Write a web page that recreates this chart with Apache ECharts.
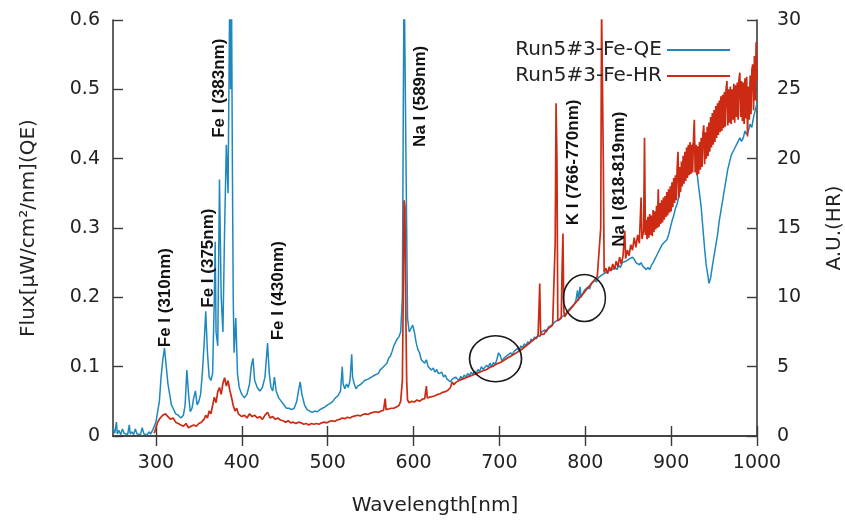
<!DOCTYPE html>
<html><head><meta charset="utf-8">
<script src="https://cdn.jsdelivr.net/npm/echarts@6/dist/echarts.min.js"></script>
<style>html,body{margin:0;padding:0;background:#fff}#c{width:845px;height:522px}</style>
</head><body><div id="c"></div>
<script>
// Run5#3-Fe-QE : [wavelength nm, flux µW/cm²/nm]
const qeSpectrum = [[250,0.012],[252,0.004],[254,0.02],[255,0.003],[257,0.008],[259,0.002],[261,0.01],[263,0.004],[265,0.006],[267,0.002],[269,0.016],[270,0.003],[272,0.006],[274,0.002],[276,0.01],[278,0.003],[280,0.005],[282,0.002],[284,0.012],[286,0.003],[288,0.004],[290,0.002],[292,0.006],[294,0.003],[296,0.008],[298,0.01],[300,0.02],[302,0.035],[304,0.05],[306,0.085],[308,0.11],[310,0.127],[312,0.1],[314,0.075],[316,0.06],[318,0.045],[320,0.04],[323,0.032],[326,0.03],[329,0.026],[332,0.03],[334,0.045],[336,0.095],[338,0.06],[340,0.035],[342,0.04],[344,0.055],[346,0.065],[348,0.045],[350,0.05],[352,0.06],[354,0.09],[356,0.13],[358,0.18],[360,0.12],[362,0.085],[364,0.08],[366,0.09],[368,0.2],[369,0.28],[370,0.15],[372,0.13],[374,0.37],[376,0.2],[378,0.15],[380,0.3],[382,0.42],[384,0.35],[386,0.65],[387,0.5],[388,0.65],[389,0.4],[390,0.2],[391,0.12],[393,0.17],[395,0.09],[397,0.07],[400,0.06],[403,0.055],[406,0.06],[409,0.075],[411,0.1],[413,0.112],[415,0.08],[418,0.07],[421,0.065],[424,0.07],[427,0.085],[430,0.134],[432,0.09],[434,0.07],[436,0.065],[438,0.085],[440,0.065],[443,0.055],[446,0.05],[449,0.045],[452,0.04],[455,0.04],[458,0.038],[461,0.04],[464,0.05],[466,0.065],[468,0.078],[470,0.06],[473,0.045],[476,0.038],[479,0.036],[482,0.034],[485,0.036],[488,0.035],[491,0.038],[494,0.04],[497,0.042],[500,0.045],[503,0.047],[506,0.05],[509,0.055],[512,0.058],[515,0.065],[517,0.1],[518,0.075],[520,0.068],[522,0.075],[524,0.07],[526,0.08],[528,0.118],[529,0.085],[531,0.075],[533,0.068],[535,0.072],[537,0.07],[539,0.075],[541,0.073],[543,0.08],[545,0.078],[547,0.082],[549,0.08],[551,0.085],[553,0.083],[555,0.088],[557,0.086],[559,0.09],[561,0.095],[563,0.093],[565,0.1],[567,0.098],[569,0.105],[571,0.112],[573,0.115],[575,0.122],[577,0.13],[579,0.135],[581,0.14],[583,0.143],[585,0.15],[587,0.2],[588,0.45],[589,0.68],[591,0.68],[592,0.3],[593,0.17],[595,0.15],[597,0.155],[599,0.16],[601,0.15],[603,0.135],[605,0.125],[607,0.12],[609,0.11],[611,0.112],[613,0.105],[615,0.11],[617,0.1],[619,0.102],[621,0.095],[623,0.098],[625,0.092],[627,0.096],[629,0.09],[631,0.088],[633,0.092],[635,0.085],[637,0.088],[639,0.082],[641,0.08],[643,0.078],[645,0.082],[647,0.08],[649,0.085],[651,0.083],[653,0.08],[655,0.086],[657,0.082],[659,0.088],[661,0.085],[663,0.09],[665,0.087],[667,0.092],[669,0.089],[671,0.094],[673,0.09],[675,0.096],[677,0.093],[679,0.1],[681,0.096],[683,0.098],[685,0.102],[687,0.099],[689,0.105],[691,0.1],[693,0.106],[695,0.103],[697,0.11],[699,0.12],[701,0.116],[703,0.108],[705,0.112],[707,0.11],[709,0.116],[711,0.114],[713,0.12],[715,0.117],[717,0.122],[719,0.12],[721,0.126],[723,0.123],[725,0.13],[727,0.127],[729,0.133],[731,0.13],[733,0.136],[735,0.133],[737,0.14],[739,0.137],[741,0.143],[743,0.14],[745,0.146],[747,0.143],[749,0.15],[751,0.148],[753,0.153],[755,0.15],[757,0.157],[759,0.155],[761,0.16],[763,0.158],[765,0.165],[767,0.163],[769,0.168],[771,0.166],[773,0.172],[775,0.17],[777,0.176],[779,0.18],[781,0.178],[783,0.185],[785,0.183],[787,0.19],[789,0.195],[791,0.21],[792,0.195],[794,0.215],[795,0.2],[797,0.205],[799,0.21],[801,0.208],[803,0.215],[805,0.212],[807,0.22],[809,0.218],[811,0.225],[813,0.222],[815,0.228],[817,0.226],[819,0.232],[821,0.23],[823,0.235],[825,0.233],[827,0.238],[829,0.236],[831,0.24],[833,0.238],[835,0.243],[837,0.24],[839,0.246],[841,0.243],[843,0.25],[845,0.248],[847,0.252],[849,0.25],[851,0.255],[853,0.253],[855,0.258],[857,0.255],[859,0.25],[861,0.252],[863,0.247],[865,0.25],[867,0.245],[869,0.243],[871,0.24],[873,0.243],[875,0.24],[877,0.246],[879,0.25],[881,0.255],[883,0.26],[885,0.265],[887,0.27],[889,0.275],[891,0.278],[893,0.28],[895,0.283],[897,0.29],[899,0.3],[901,0.31],[903,0.318],[905,0.328],[907,0.335],[909,0.345],[911,0.36],[913,0.375],[915,0.39],[917,0.4],[919,0.413],[921,0.417],[923,0.41],[925,0.42],[927,0.425],[929,0.4],[931,0.37],[933,0.35],[935,0.33],[937,0.3],[939,0.27],[941,0.245],[943,0.23],[944,0.22],[946,0.228],[948,0.245],[950,0.26],[952,0.275],[954,0.29],[956,0.31],[958,0.325],[960,0.34],[962,0.355],[964,0.37],[966,0.385],[968,0.395],[970,0.405],[972,0.41],[974,0.415],[976,0.42],[978,0.425],[980,0.43],[982,0.425],[984,0.43],[986,0.44],[988,0.435],[990,0.44],[992,0.45],[994,0.445],[996,0.46],[998,0.47],[1000,0.48]];

// Run5#3-Fe-HR : [wavelength nm, A.U.]
const hrSpectrum = [[298,0.2],[300,0.6],[302,1.0],[305,1.3],[308,1.5],[311,1.6],[314,1.4],[317,1.2],[320,1.3],[323,1.0],[326,0.9],[329,0.8],[332,0.7],[335,0.9],[338,0.6],[341,0.7],[344,0.8],[347,0.7],[350,0.9],[353,1.0],[356,1.2],[358,1.5],[360,1.3],[362,1.8],[364,1.6],[366,2.2],[368,2.8],[370,2.4],[372,3.2],[374,3.5],[376,3.0],[378,3.8],[380,4.2],[382,3.6],[384,4.0],[386,3.3],[388,2.8],[390,2.2],[392,1.8],[394,2.0],[396,1.6],[398,1.5],[400,1.4],[403,1.5],[406,1.3],[409,1.6],[412,1.4],[415,1.5],[418,1.3],[421,1.4],[424,1.2],[427,1.5],[430,1.7],[433,1.3],[436,1.4],[439,1.2],[442,1.3],[445,1.15],[448,1.1],[451,1.0],[454,1.1],[457,0.95],[460,1.0],[463,0.9],[466,1.0],[469,0.95],[472,0.85],[475,0.9],[478,0.8],[481,0.9],[484,0.85],[487,0.9],[490,0.85],[493,0.95],[496,1.0],[499,0.95],[502,1.05],[505,1.1],[508,1.05],[511,1.15],[514,1.2],[517,1.3],[520,1.25],[523,1.35],[526,1.3],[529,1.4],[532,1.45],[535,1.5],[538,1.45],[541,1.55],[544,1.6],[547,1.55],[550,1.65],[553,1.7],[556,1.75],[559,1.7],[562,1.8],[565,1.85],[567,2.7],[568,1.9],[571,1.95],[574,2.0],[577,2.0],[580,2.1],[583,2.2],[585,2.5],[587,4],[588,10],[589,17],[590,16.5],[591,9],[592,4],[593,2.6],[595,2.4],[598,2.5],[601,2.45],[604,2.6],[607,2.5],[610,2.65],[613,2.7],[615,3.6],[616,2.75],[619,2.8],[622,2.85],[625,2.9],[628,3.0],[631,3.05],[634,3.15],[637,3.2],[640,3.3],[643,3.5],[645,3.9],[647,3.7],[649,3.85],[651,3.8],[653,4.0],[655,3.9],[657,4.1],[659,4.0],[661,4.2],[663,4.1],[665,4.3],[667,4.2],[669,4.4],[671,4.3],[673,4.5],[675,4.4],[677,4.6],[679,4.5],[681,4.7],[683,4.6],[685,4.8],[687,4.75],[689,4.95],[691,4.85],[693,5.05],[695,5.0],[697,5.2],[699,5.1],[701,5.3],[703,5.25],[705,5.45],[707,5.4],[709,5.6],[711,5.55],[713,5.75],[715,5.7],[717,5.9],[719,5.85],[721,6.05],[723,6.0],[725,6.2],[727,6.15],[729,6.4],[731,6.35],[733,6.6],[735,6.55],[737,6.8],[739,6.75],[741,7.0],[743,6.95],[745,7.2],[746,9],[747,11],[748,7.3],[750,7.4],[752,7.35],[754,7.6],[756,7.55],[758,7.8],[760,7.75],[762,8.0],[764,8.1],[765,14],[766,24],[767,20],[768,8.3],[770,8.4],[772,8.5],[773,12],[774,14.6],[775,9],[776,8.6],[778,8.8],[780,8.9],[782,9.1],[784,9.2],[786,9.4],[788,9.5],[790,9.7],[792,9.8],[794,10.0],[796,10.1],[798,10.3],[800,10.4],[802,10.6],[804,10.7],[806,10.9],[808,11.0],[810,11.2],[812,11.3],[814,11.5],[816,11.6],[818,15],[819,31],[820,31],[821,20],[822,11.8],[824,12.1],[826,11.7],[828,12.2],[830,11.9],[832,12.4],[834,12.0],[836,12.6],[838,12.2],[840,12.9],[842,12.4],[844,13.0],[846,14.8],[847,12.8],[849,13.4],[851,13.0],[853,13.8],[855,13.4],[857,14.3],[859,13.6],[861,14.5],[863,13.9],[865,17.2],[866,14.2],[868,14.8],[869,21.5],[870,14.5],[871,15.6],[872,14.2],[873,15.8],[874,14.3],[875,16.0],[876,14.5],[877,15.9],[878,14.4],[879,16.3],[880,14.7],[881,16.2],[882,14.9],[883,16.6],[884,15.0],[885,17.8],[886,15.1],[887,16.8],[888,15.3],[889,17.0],[890,15.4],[891,17.2],[892,15.6],[893,17.3],[894,15.8],[895,17.6],[896,15.9],[897,17.8],[898,16.1],[899,18.0],[900,16.2],[901,18.3],[902,16.5],[903,18.6],[904,16.8],[905,18.8],[906,17.0],[907,19.3],[908,20.5],[909,17.2],[910,19.4],[911,17.6],[912,19.8],[913,18.0],[914,20.2],[915,18.2],[916,20.5],[917,18.4],[918,20.8],[919,18.6],[920,21.0],[921,18.8],[922,21.2],[923,18.9],[924,21.0],[925,19.0],[926,21.3],[927,22.8],[928,19.0],[929,21.0],[930,18.8],[931,20.9],[932,18.9],[933,21.2],[934,19.2],[935,21.5],[936,19.4],[937,21.8],[938,22.4],[939,19.6],[940,21.9],[941,20.0],[942,22.3],[943,20.2],[944,22.6],[945,20.5],[946,23.0],[947,20.8],[948,23.3],[949,21.0],[950,23.5],[951,21.2],[952,23.8],[953,21.5],[954,24.0],[955,21.7],[956,24.2],[957,21.9],[958,24.5],[959,22.0],[960,24.6],[961,22.2],[962,24.8],[963,22.3],[964,25.0],[965,25.6],[966,22.4],[967,25.0],[968,22.6],[969,25.2],[970,22.5],[971,25.0],[972,22.8],[973,25.4],[974,22.6],[975,25.3],[976,23.0],[977,25.5],[978,22.8],[979,25.7],[980,26.2],[981,23.0],[982,25.6],[983,22.7],[984,25.5],[985,22.5],[986,25.8],[987,22.9],[988,25.9],[989,21.6],[990,25.2],[991,22.8],[992,26.0],[993,23.2],[994,26.4],[995,26.8],[996,23.5],[997,27.4],[998,24.2],[999,28.4],[1000,25.6]];

const seriesNames = ['Run5#3-Fe-QE', 'Run5#3-Fe-HR'];
const xTickValues = [300, 400, 500, 600, 700, 800, 900, 1000];
const lineLabels = ['Fe I (310nm)', 'Fe I (375nm)', 'Fe I (383nm)', 'Fe I (430nm)', 'Na I (589nm)', 'K I (766-770nm)', 'Na I (818-819nm)'];
const lineLabelX = [311, 361, 374, 442, 608, 785.5, 840];
const lineLabelY = [0.128, 0.185, 0.43, 0.138, 0.417, 0.304, 0.273];
const circleCenters = [[695.5, 0.1115], [799, 0.199]];

const chart = echarts.init(document.getElementById('c'), null, {renderer: 'canvas'});
const axisColor = '#3a3a3a';
const textColor = '#222';
const tickFont = {fontFamily: 'DejaVu Sans', fontSize: 19, color: textColor};
const nameFont = {fontFamily: 'DejaVu Sans', fontSize: 20, color: textColor};
const axLine = {show: true, lineStyle: {color: axisColor, width: 1.6}};
const axTick = {show: true, inside: true, length: 10, lineStyle: {color: axisColor, width: 1.4}};

const option = {
  animation: false,
  backgroundColor: '#fff',
  grid: {left: 113, right: 88, top: 20, bottom: 86, outerBoundsMode: 'none', containLabel: false},
  legend: {
    data: seriesNames, orient: 'vertical', right: 110, top: 35, align: 'right',
    icon: 'rect', itemWidth: 63, itemHeight: 2, itemGap: 6,
    textStyle: {fontFamily: 'DejaVu Sans', fontSize: 20, color: textColor}
  },
  xAxis: [
    {type: 'value', min: 250, max: 1000, position: 'bottom',
     axisLine: axLine, axisTick: Object.assign({customValues: xTickValues}, axTick),
     axisLabel: Object.assign({customValues: xTickValues, margin: 18, formatter: v => String(v)}, tickFont),
     splitLine: {show: false},
     name: 'Wavelength[nm]', nameLocation: 'middle', nameGap: 60, nameTextStyle: nameFont},
    {type: 'value', min: 250, max: 1000, position: 'top',
     axisLine: axLine, axisTick: Object.assign({customValues: xTickValues}, axTick),
     axisLabel: {show: false}, splitLine: {show: false}}
  ],
  yAxis: [
    {type: 'value', min: 0, max: 0.6, interval: 0.1, position: 'left',
     axisLine: axLine, axisTick: axTick,
     axisLabel: Object.assign({margin: 13, formatter: v => (v === 0 ? '0' : v.toFixed(1))}, tickFont),
     splitLine: {show: false},
     name: 'Flux[μW/cm²/nm](QE)', nameLocation: 'middle', nameGap: 74, nameTextStyle: nameFont},
    {type: 'value', min: 0, max: 30, interval: 5, position: 'right',
     axisLine: axLine, axisTick: axTick,
     axisLabel: Object.assign({margin: 20}, tickFont),
     splitLine: {show: false},
     name: 'A.U.(HR)', nameLocation: 'middle', nameGap: 68, nameTextStyle: nameFont}
  ],
  series: [
    {name: seriesNames[0], type: 'line', xAxisIndex: 0, yAxisIndex: 0, data: qeSpectrum,
     symbol: 'none', showSymbol: false, z: 2,
     lineStyle: {color: '#1e88bd', width: 1.5}, itemStyle: {color: '#1e88bd'},
     markPoint: {
       silent: true, symbol: 'circle', label: {show: false},
       itemStyle: {color: 'rgba(0,0,0,0)', borderColor: '#1a1a1a', borderWidth: 1.6},
       data: [
         {coord: circleCenters[0], symbolSize: [52, 46]},
         {coord: circleCenters[1], symbolSize: [42, 47]}
       ]
     }},
    {name: seriesNames[1], type: 'line', xAxisIndex: 0, yAxisIndex: 1, data: hrSpectrum,
     symbol: 'none', showSymbol: false, z: 3,
     lineStyle: {color: '#cc2a12', width: 1.7}, itemStyle: {color: '#cc2a12'}},
    {type: 'custom', xAxisIndex: 0, yAxisIndex: 0, silent: true, clip: false, z: 5,
     data: lineLabels.map((t, i) => [lineLabelX[i], lineLabelY[i]]),
     renderItem: (params, api) => {
       const p = api.coord([api.value(0), api.value(1)]);
       return {type: 'text', x: p[0], y: p[1], rotation: Math.PI / 2,
         style: {text: lineLabels[params.dataIndex], font: 'bold 17px "Liberation Sans", Arial, sans-serif',
                 fill: '#111', align: 'left', verticalAlign: 'middle'}};
     }}
  ]
};
chart.setOption(option);
</script>
</body></html>
